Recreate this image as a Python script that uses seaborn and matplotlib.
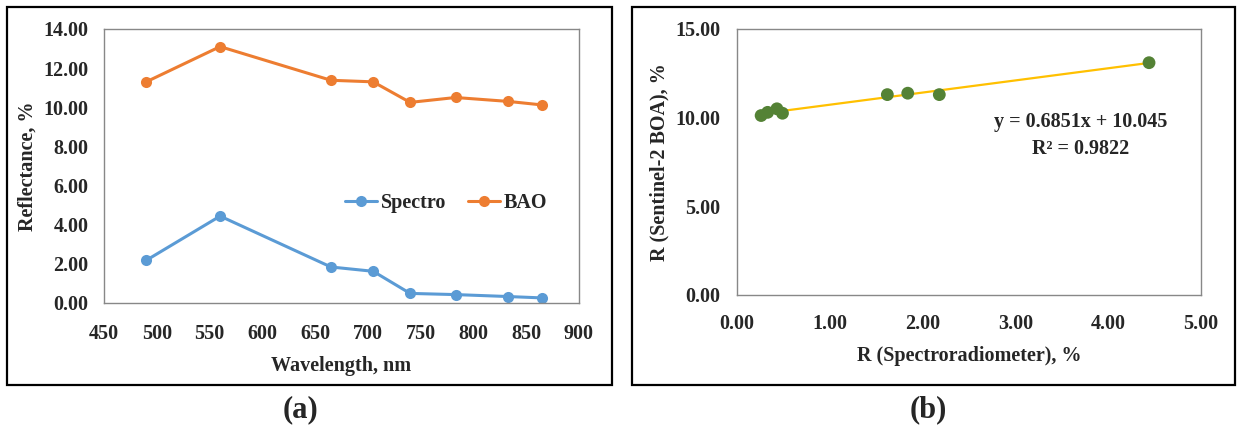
import numpy as np
import pandas as pd
import matplotlib
matplotlib.use('Agg')
import matplotlib.pyplot as plt
from matplotlib.patches import Rectangle
import seaborn as sns

# data
wavelength = [490, 560, 665, 705, 740, 783, 833, 865]
spectro = [2.18, 4.44, 1.84, 1.62, 0.49, 0.43, 0.33, 0.26]
bao = [11.30, 13.10, 11.38, 11.30, 10.25, 10.50, 10.30, 10.12]
slope = 0.6851
intercept = 10.045
r2 = 0.9822

sns.set_style('white')
plt.rcParams['font.family'] = ['Liberation Serif', 'DejaVu Serif']
plt.rcParams['font.weight'] = 'bold'
plt.rcParams['axes.labelweight'] = 'bold'

W, H = 1241, 429
fig = plt.figure(figsize=(W / 100, H / 100), dpi=100)


def frac(x0, y0, x1, y1):
    # pixel box -> figure fraction
    return [x0 / W, 1 - y1 / H, (x1 - x0) / W, (y1 - y0) / H]


# panel frames
for x0, x1 in [(7, 612), (632, 1235)]:
    fig.patches.append(Rectangle((x0 / W, 1 - 385 / H), (x1 - x0) / W, (385 - 7) / H,
                                 transform=fig.transFigure, fill=False,
                                 edgecolor='black', linewidth=1.6))

# =============================================================================
# (a) spectra
# =============================================================================
ax1 = fig.add_axes(frac(104, 29, 579, 303))
df = pd.DataFrame({'Wavelength': wavelength * 2,
                   'Reflectance': spectro + bao,
                   'Series': ['Spectro'] * len(spectro) + ['BAO'] * len(bao)})
sns.lineplot(data=df, x='Wavelength', y='Reflectance', hue='Series',
             palette={'Spectro': '#5B9BD5', 'BAO': '#ED7D31'},
             marker='o', markersize=8, markeredgewidth=0, linewidth=2.2, ax=ax1)
ax1.set_xlim(450, 900)
ax1.set_ylim(0, 14)
ax1.set_xticks(np.arange(450, 901, 50))
ax1.set_yticks(np.arange(0, 14.1, 2))
ax1.set_yticklabels([f'{v:.2f}' for v in np.arange(0, 14.1, 2)])
ax1.set_xlabel('Wavelength, nm', fontsize=14.5, labelpad=9)
ax1.set_ylabel('Reflectance, %', fontsize=14.5, labelpad=4)
ax1.tick_params(axis='x', labelsize=14.5, length=0, pad=15)
ax1.tick_params(axis='y', labelsize=14.5, length=0, pad=11)
for s in ax1.spines.values():
    s.set_color('#888888')
    s.set_linewidth(1.0)
ax1.legend(loc='center', bbox_to_anchor=(0.72, 0.365), ncol=2, frameon=False,
           handlelength=1.6, handletextpad=0.15, columnspacing=1.1,
           prop={'weight': 'bold', 'size': 14.5})

# =============================================================================
# (b) regression
# =============================================================================
ax2 = fig.add_axes(frac(737, 29, 1201, 295))
xfit = np.array([min(spectro), max(spectro)])
sns.lineplot(x=xfit, y=slope * xfit + intercept, color='#FFC000', linewidth=1.6, ax=ax2)
sns.scatterplot(x=spectro, y=bao, color='#548235', s=85, edgecolor='none', ax=ax2, zorder=3)
ax2.set_xlim(0, 5)
ax2.set_ylim(0, 15)
ax2.set_xticks(np.arange(0, 5.1, 1))
ax2.set_xticklabels([f'{v:.2f}' for v in np.arange(0, 5.1, 1)])
ax2.set_yticks(np.arange(0, 15.1, 5))
ax2.set_yticklabels([f'{v:.2f}' for v in np.arange(0, 15.1, 5)])
ax2.set_xlabel('R (Spectroradiometer), %', fontsize=14.5, labelpad=8)
ax2.set_ylabel('R (Sentinel-2 BOA), %', fontsize=14.5, labelpad=4)
ax2.tick_params(axis='x', labelsize=14.5, length=0, pad=14)
ax2.tick_params(axis='y', labelsize=14.5, length=0, pad=12)
for s in ax2.spines.values():
    s.set_color('#888888')
    s.set_linewidth(1.0)
ax2.text(3.7, 9.0, f'y = {slope}x + {intercept}\nR\u00b2 = {r2}', ha='center', va='center',
         fontsize=14.5, fontweight='bold', linespacing=1.45)

# panel letters
fig.text(300 / W, 1 - 410 / H, '(a)', ha='center', va='center', fontsize=22, fontweight='bold')
fig.text(928 / W, 1 - 410 / H, '(b)', ha='center', va='center', fontsize=22, fontweight='bold')

fig.savefig('out.png', dpi=100)
